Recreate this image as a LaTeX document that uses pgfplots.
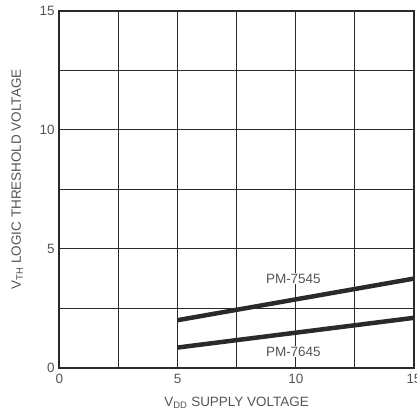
\documentclass[border=0pt]{standalone}
\usepackage{pgfplots}
\pgfplotsset{compat=1.18}
\usetikzlibrary{calc}
\usepackage{fontspec}
\setmainfont{Liberation Sans}
\definecolor{ink}{HTML}{2A2A2A}
\definecolor{txt}{HTML}{555555}
\begin{document}
\begin{tikzpicture}
  \begin{axis}[
    name=ax,
    scale only axis, width=354bp, height=356bp,
    xmin=0, xmax=15, ymin=0, ymax=15,
    xtick={0,5,10,15}, ytick={0,5,10,15},
    minor xtick={2.5,7.5,12.5}, minor ytick={2.5,7.5,12.5},
    grid=both,
    major grid style={ink, line width=1pt},
    minor grid style={ink, line width=1pt},
    axis line style={ink, line width=1.8pt},
    major tick length=0pt, minor tick length=0pt,
    tick label style={font=\fontsize{13.5}{15}\selectfont, text=txt},
    /pgf/number format/assume math mode=true,
    xticklabel style={yshift=-3pt},
    yticklabel style={xshift=-1pt},
    label style={font=\fontsize{13.5}{15}\selectfont, text=txt},
    xlabel={V\textsubscript{DD} SUPPLY VOLTAGE},
    ylabel={V\textsubscript{TH} LOGIC THRESHOLD VOLTAGE},
    xlabel style={yshift=-6pt},
    ylabel style={yshift=10pt, xshift=10pt},
  ]
  % PM-7545
  \addplot[ink, line width=4.5pt, line cap=butt] coordinates {
    (5, 2.0)
    (15, 3.75)
  };
  % PM-7645
  \addplot[ink, line width=4.5pt, line cap=butt] coordinates {
    (5, 0.85)
    (15, 2.1)
  };
  \node[font=\fontsize{13.5}{15}\selectfont, text=txt, fill=white, inner sep=1pt] at (axis cs:9.9,3.75) {PM-7545};
  \node[font=\fontsize{13.5}{15}\selectfont, text=txt, fill=white, inner sep=1pt] at (axis cs:9.9,0.68) {PM-7645};
  \end{axis}
  \pgfresetboundingbox
  \useasboundingbox ($(ax.outer south west)+(-8bp,-1bp)$) rectangle ($(ax.outer north east -| ax.east)+(3bp,3bp)$);
\end{tikzpicture}
\end{document}
